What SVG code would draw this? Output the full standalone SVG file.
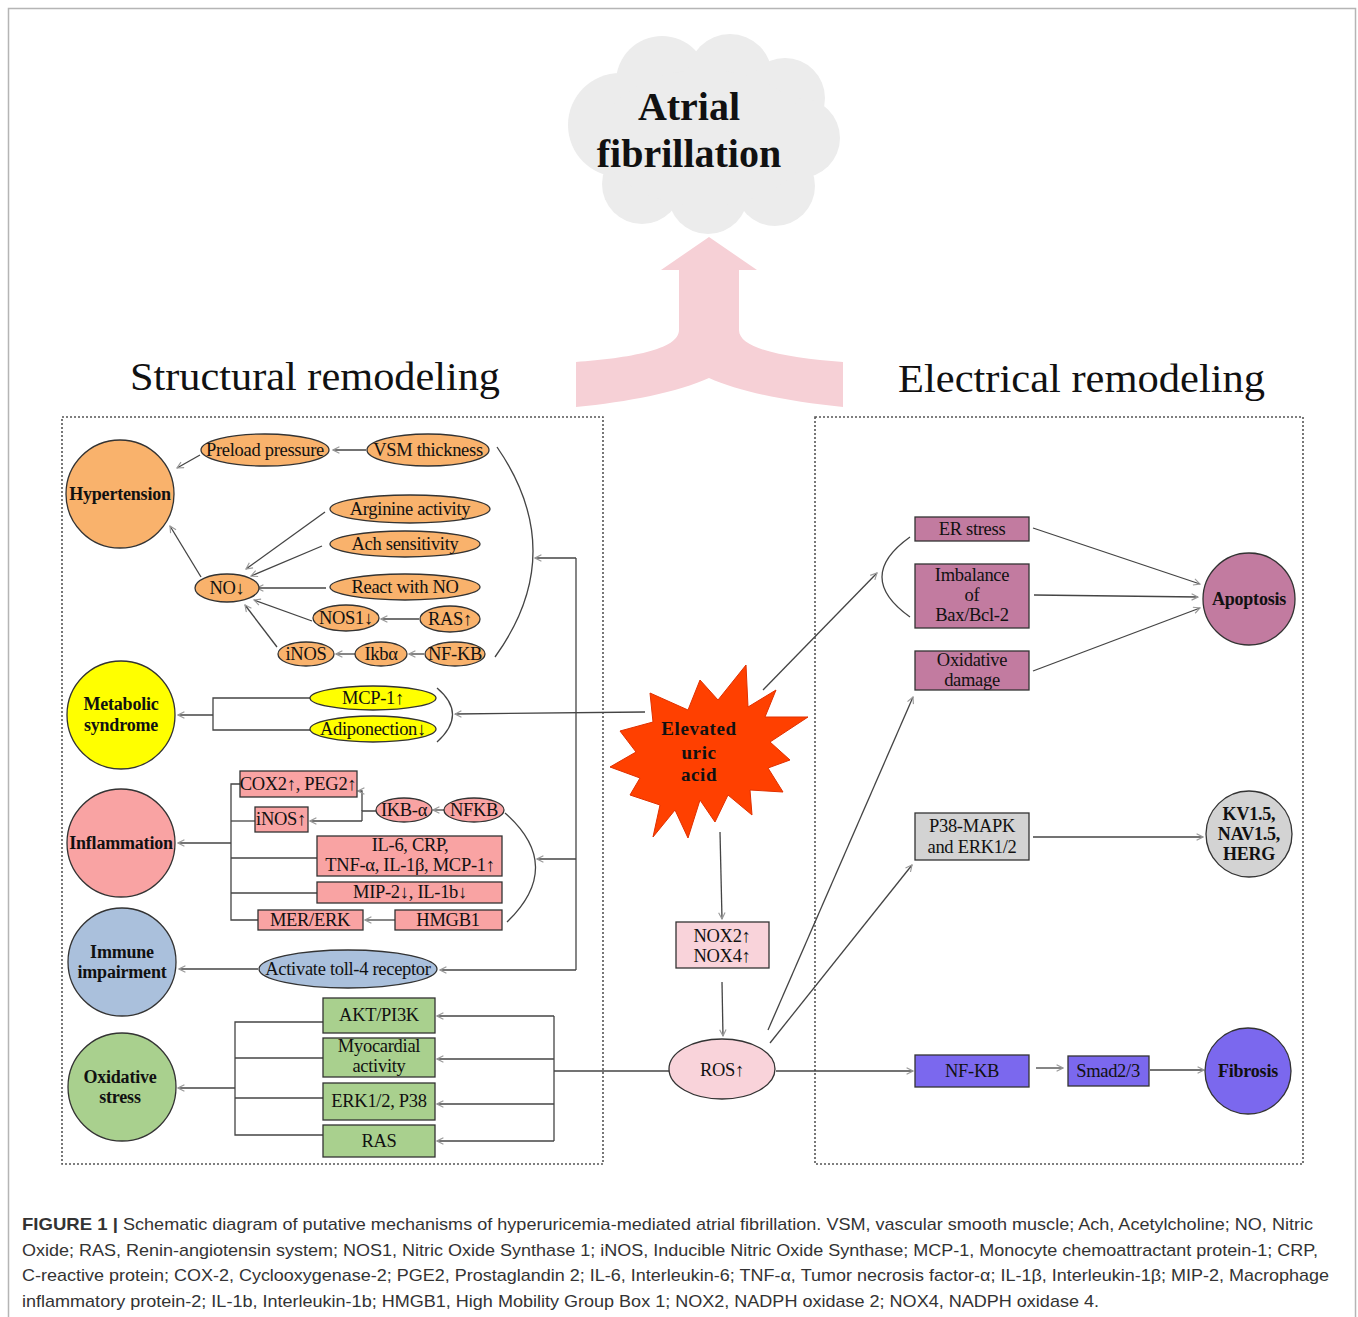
<svg xmlns="http://www.w3.org/2000/svg" width="1358" height="1317" viewBox="0 0 1358 1317">
<defs>
<style>
.n{font-family:"Liberation Serif","Times New Roman",serif;font-size:18.5px;text-anchor:middle;fill:#111;letter-spacing:-0.3px}
.b{font-weight:bold;font-size:18px;letter-spacing:-0.2px}
.h{font-family:"Liberation Serif","Times New Roman",serif;font-size:40px;fill:#111}
.cap{font-family:"Liberation Sans",Arial,sans-serif;font-size:17px;fill:#333}
.sk{stroke:#333;stroke-width:1.3}
.c{fill:none;stroke:#444;stroke-width:1.3}
.a{marker-end:url(#ah)}
.box{fill:none;stroke:#555;stroke-width:1.6;stroke-dasharray:2 2}
</style>
<marker id="ah" viewBox="0 0 10 10" refX="9" refY="5" markerWidth="8" markerHeight="8" markerUnits="userSpaceOnUse" orient="auto">
<path d="M1,1 L9,5 L1,9" fill="none" stroke="#999" stroke-width="1.4"/>
</marker>
</defs>
<rect width="1358" height="1317" fill="#fff"/>
<rect x="8.5" y="8.5" width="1347" height="1340" fill="none" stroke="#b5b5b5" stroke-width="1.5"/>

<g id="cloud" fill="#ececec">
<circle cx="620" cy="125" r="52"/>
<circle cx="662" cy="82" r="46"/>
<circle cx="730" cy="76" r="42"/>
<circle cx="785" cy="98" r="40"/>
<circle cx="800" cy="138" r="40"/>
<circle cx="775" cy="186" r="40"/>
<circle cx="708" cy="194" r="40"/>
<circle cx="642" cy="184" r="40"/>
<ellipse cx="705" cy="138" rx="105" ry="68"/>
<text x="689" y="120" class="n" style="font-weight:bold;font-size:40px;letter-spacing:0">Atrial</text>
<text x="689" y="167" class="n" style="font-weight:bold;font-size:40px;letter-spacing:0">fibrillation</text>
</g>

<g id="big-arrow">
<path d="M709,237 L757,270 L739,270 L739,330 C739,350 790,358 843,362 L843,407 C790,402 740,392 709,378 C678,392 628,402 576,407 L576,362 C628,358 679,350 679,330 L679,270 L661,270 Z" fill="#f6d0d6"/>
</g>

<text x="130" y="390" class="h" textLength="370" lengthAdjust="spacingAndGlyphs">Structural remodeling</text>
<text x="898" y="392" class="h" textLength="367" lengthAdjust="spacingAndGlyphs">Electrical remodeling</text>

<rect x="62" y="417" width="541" height="747" class="box"/>
<rect x="815" y="417" width="488" height="747" class="box"/>

<g id="connectors">
<path class="c a" d="M200,455 L177,468"/>
<path class="c a" d="M366,450 L333,450"/>
<path class="c a" d="M201,577 L170,526"/>
<path class="c a" d="M325,512 L246,569"/>
<path class="c a" d="M322,546 L251,576"/>
<path class="c a" d="M326,588 L257,588"/>
<path class="c a" d="M312,621 L254,600"/>
<path class="c a" d="M419,619 L381,619"/>
<path class="c a" d="M277,647 L245,605"/>
<path class="c a" d="M355,654 L336,654"/>
<path class="c a" d="M424,654 L409,654"/>
<path class="c" d="M497,447 Q570,553 495,657"/>
<path class="c a" d="M576,558 L535,558"/>
<path class="c" d="M576,558 V970"/>
<path class="c a" d="M645,712 L455,714"/>
<path class="c" d="M437,688 Q468,714 437,742"/>
<path class="c" d="M310,698 H213 V730 H310"/>
<path class="c a" d="M213,715 L178,715"/>
<path class="c a" d="M231,843 L178,843"/>
<path class="c" d="M240,784 H231 V920 H258"/>
<path class="c" d="M255,821 H231"/>
<path class="c" d="M317,858 H231"/>
<path class="c" d="M317,893 H231"/>
<path class="c" d="M376,811 H362 V821"/>
<path class="c a" d="M362,811 V791 L358,791"/>
<path class="c a" d="M362,821 L310,821"/>
<path class="c a" d="M444,810 L433,810"/>
<path class="c a" d="M395,920 L365,920"/>
<path class="c" d="M505,813 Q565,866 507,922"/>
<path class="c a" d="M576,859 L537,859"/>
<path class="c a" d="M258,969 L179,969"/>
<path class="c a" d="M576,970 L440,970"/>
<path class="c a" d="M235,1088 L178,1088"/>
<path class="c" d="M323,1022 H235 V1135 H323"/>
<path class="c" d="M323,1058 H235"/>
<path class="c" d="M323,1098 H235"/>
<path class="c" d="M670,1071 H554"/>
<path class="c" d="M554,1016 V1141"/>
<path class="c a" d="M554,1016 L437,1016"/>
<path class="c a" d="M554,1059 L437,1059"/>
<path class="c a" d="M554,1104 L437,1104"/>
<path class="c a" d="M554,1141 L437,1141"/>
<path class="c a" d="M720,832 L722,919"/>
<path class="c a" d="M722,982 L723,1036"/>
<path class="c a" d="M763,690 L877,573"/>
<path class="c" d="M910,537 Q854,577 910,617"/>
<path class="c a" d="M768,1030 L913,697"/>
<path class="c a" d="M770,1043 L912,865"/>
<path class="c a" d="M776,1071 L913,1071"/>
<path class="c a" d="M1033,528 L1200,584"/>
<path class="c a" d="M1034,595 L1198,597"/>
<path class="c a" d="M1033,671 L1200,608"/>
<path class="c a" d="M1033,837 L1203,837"/>
<path class="c a" d="M1036,1068 L1063,1068"/>
<path class="c a" d="M1150,1070 L1204,1070"/>
</g>

<g id="hypertension"><circle cx="120" cy="494" r="54" fill="#f9b26c" class="sk"/><text x="120" y="500" class="n b">Hypertension</text></g>
<g id="preload"><ellipse cx="265" cy="450" rx="64" ry="16" fill="#f9b26c" class="sk"/><text x="265" y="456" class="n">Preload pressure</text></g>
<g id="vsm"><ellipse cx="428" cy="450" rx="61" ry="16" fill="#f9b26c" class="sk"/><text x="428" y="456" class="n">VSM thickness</text></g>
<g id="arginine"><ellipse cx="410" cy="509" rx="80" ry="14" fill="#f9b26c" class="sk"/><text x="410" y="515" class="n">Arginine activity</text></g>
<g id="ach"><ellipse cx="405" cy="544" rx="75" ry="13" fill="#f9b26c" class="sk"/><text x="405" y="550" class="n">Ach sensitivity</text></g>
<g id="react"><ellipse cx="405" cy="587" rx="75" ry="13" fill="#f9b26c" class="sk"/><text x="405" y="593" class="n">React with NO</text></g>
<g id="no"><ellipse cx="227" cy="588" rx="32" ry="14" fill="#f9b26c" class="sk"/><text x="227" y="594" class="n">NO↓</text></g>
<g id="nos1"><ellipse cx="346" cy="618" rx="33" ry="13" fill="#f9b26c" class="sk"/><text x="346" y="624" class="n">NOS1↓</text></g>
<g id="ras-up"><ellipse cx="450" cy="619" rx="30" ry="13" fill="#f9b26c" class="sk"/><text x="450" y="625" class="n">RAS↑</text></g>
<g id="inos"><ellipse cx="306" cy="654" rx="28" ry="12" fill="#f9b26c" class="sk"/><text x="306" y="660" class="n">iNOS</text></g>
<g id="ikba"><ellipse cx="381" cy="654" rx="26" ry="12" fill="#f9b26c" class="sk"/><text x="381" y="660" class="n">Ikbα</text></g>
<g id="nfkb-h"><ellipse cx="455" cy="654" rx="30" ry="12" fill="#f9b26c" class="sk"/><text x="455" y="660" class="n">NF-KB</text></g>

<g id="metabolic"><circle cx="121" cy="715" r="54" fill="#ffff00" class="sk"/><text x="121" y="710" class="n b">Metabolic</text><text x="121" y="731" class="n b">syndrome</text></g>
<g id="mcp1"><ellipse cx="373" cy="698" rx="63" ry="12" fill="#ffff00" class="sk"/><text x="373" y="704" class="n">MCP-1↑</text></g>
<g id="adipo"><ellipse cx="373" cy="729" rx="63" ry="13" fill="#ffff00" class="sk"/><text x="373" y="735" class="n">Adiponection↓</text></g>

<g id="inflammation"><circle cx="121" cy="843" r="54" fill="#f9a3a3" class="sk"/><text x="121" y="849" class="n b">Inflammation</text></g>
<g id="cox2"><rect x="240" y="771" width="117" height="26" fill="#f9a3a3" class="sk"/><text x="298" y="790" class="n">COX2↑, PEG2↑</text></g>
<g id="inos-up"><rect x="255" y="807" width="53" height="25" fill="#f9a3a3" class="sk"/><text x="281" y="825" class="n">iNOS↑</text></g>
<g id="ikb-alpha"><ellipse cx="404" cy="810" rx="28" ry="12" fill="#f9a3a3" class="sk"/><text x="404" y="816" class="n">IKB-α</text></g>
<g id="nfkb-i"><ellipse cx="474" cy="810" rx="30" ry="12" fill="#f9a3a3" class="sk"/><text x="474" y="816" class="n">NFKB</text></g>
<g id="il6"><rect x="317" y="836" width="185" height="40" fill="#f9a3a3" class="sk"/><text x="410" y="851" class="n">IL-6, CRP,</text><text x="410" y="871" class="n">TNF-α, IL-1β, MCP-1↑</text></g>
<g id="mip2"><rect x="317" y="882" width="185" height="21" fill="#f9a3a3" class="sk"/><text x="410" y="898" class="n">MIP-2↓, IL-1b↓</text></g>
<g id="mer-erk"><rect x="258" y="910" width="105" height="20" fill="#f9a3a3" class="sk"/><text x="310" y="926" class="n">MER/ERK</text></g>
<g id="hmgb1"><rect x="395" y="910" width="107" height="20" fill="#f9a3a3" class="sk"/><text x="448" y="926" class="n">HMGB1</text></g>

<g id="immune"><circle cx="122" cy="962" r="54" fill="#aac0dc" class="sk"/><text x="122" y="958" class="n b">Immune</text><text x="122" y="978" class="n b">impairment</text></g>
<g id="toll"><ellipse cx="348" cy="969" rx="89" ry="19" fill="#aac0dc" class="sk"/><text x="348" y="975" class="n">Activate toll-4 receptor</text></g>

<g id="oxidative"><circle cx="122" cy="1087" r="54" fill="#a9d08e" class="sk"/><text x="120" y="1083" class="n b">Oxidative</text><text x="120" y="1103" class="n b">stress</text></g>
<g id="akt"><rect x="323" y="998" width="112" height="35" fill="#a9d08e" class="sk"/><text x="379" y="1021" class="n">AKT/PI3K</text></g>
<g id="myocardial"><rect x="323" y="1038" width="112" height="39" fill="#a9d08e" class="sk"/><text x="379" y="1052" class="n">Myocardial</text><text x="379" y="1072" class="n">activity</text></g>
<g id="erk-p38"><rect x="323" y="1083" width="112" height="37" fill="#a9d08e" class="sk"/><text x="379" y="1107" class="n">ERK1/2, P38</text></g>
<g id="ras"><rect x="323" y="1125" width="112" height="32" fill="#a9d08e" class="sk"/><text x="379" y="1147" class="n">RAS</text></g>

<g id="uric-acid">
<polygon points="746,665 748,707 776,690 765,717 808,717 770,742 790,760 768,768 783,792 750,790 752,815 728,795 715,822 700,800 688,838 675,810 653,837 660,805 630,795 640,778 610,767 636,752 620,731 653,722 650,693 688,710 700,680 718,700" fill="#ff4000" stroke="#e03000" stroke-width="1"/>
<text x="699" y="735" class="n" style="font-weight:bold;font-size:19px;letter-spacing:0.6px">Elevated</text>
<text x="699" y="759" class="n" style="font-weight:bold;font-size:19px;letter-spacing:0.6px">uric</text>
<text x="699" y="781" class="n" style="font-weight:bold;font-size:19px;letter-spacing:0.6px">acid</text>
</g>
<g id="nox"><rect x="676" y="922" width="93" height="46" fill="#f9d3da" class="sk"/><text x="722" y="942" class="n">NOX2↑</text><text x="722" y="962" class="n">NOX4↑</text></g>
<g id="ros"><ellipse cx="722" cy="1069" rx="53" ry="30" fill="#f9d3da" class="sk"/><text x="722" y="1076" class="n">ROS↑</text></g>

<g id="er-stress"><rect x="915" y="517" width="114" height="24" fill="#c27ba0" class="sk"/><text x="972" y="535" class="n">ER stress</text></g>
<g id="imbalance"><rect x="915" y="564" width="114" height="64" fill="#c27ba0" class="sk"/><text x="972" y="581" class="n">Imbalance</text><text x="972" y="601" class="n">of</text><text x="972" y="621" class="n">Bax/Bcl-2</text></g>
<g id="ox-damage"><rect x="915" y="651" width="114" height="39" fill="#c27ba0" class="sk"/><text x="972" y="666" class="n">Oxidative</text><text x="972" y="686" class="n">damage</text></g>
<g id="apoptosis"><circle cx="1249" cy="599" r="46" fill="#c27ba0" class="sk"/><text x="1249" y="605" class="n b">Apoptosis</text></g>
<g id="p38"><rect x="915" y="813" width="114" height="47" fill="#d3d3d3" class="sk"/><text x="972" y="832" class="n">P38-MAPK</text><text x="972" y="853" class="n">and ERK1/2</text></g>
<g id="kv"><circle cx="1249" cy="834" r="43" fill="#d3d3d3" class="sk"/><text x="1249" y="820" class="n b">KV1.5,</text><text x="1249" y="840" class="n b">NAV1.5,</text><text x="1249" y="860" class="n b">HERG</text></g>
<g id="nfkb-r"><rect x="915" y="1055" width="114" height="32" fill="#7b68ee" class="sk"/><text x="972" y="1077" class="n">NF-KB</text></g>
<g id="smad"><rect x="1068" y="1056" width="81" height="30" fill="#7b68ee" class="sk"/><text x="1108" y="1077" class="n">Smad2/3</text></g>
<g id="fibrosis"><circle cx="1248" cy="1071" r="43" fill="#7b68ee" class="sk"/><text x="1248" y="1077" class="n b">Fibrosis</text></g>

<g id="caption">
<text x="22" y="1230" class="cap" style="font-weight:bold" textLength="96" lengthAdjust="spacingAndGlyphs">FIGURE 1 |</text>
<text x="123" y="1230" class="cap" textLength="1190" lengthAdjust="spacingAndGlyphs">Schematic diagram of putative mechanisms of hyperuricemia-mediated atrial fibrillation. VSM, vascular smooth muscle; Ach, Acetylcholine; NO, Nitric</text>
<text x="22" y="1256" class="cap" textLength="1296" lengthAdjust="spacingAndGlyphs">Oxide; RAS, Renin-angiotensin system; NOS1, Nitric Oxide Synthase 1; iNOS, Inducible Nitric Oxide Synthase; MCP-1, Monocyte chemoattractant protein-1; CRP,</text>
<text x="22" y="1281" class="cap" textLength="1307" lengthAdjust="spacingAndGlyphs">C-reactive protein; COX-2, Cyclooxygenase-2; PGE2, Prostaglandin 2; IL-6, Interleukin-6; TNF-α, Tumor necrosis factor-α; IL-1β, Interleukin-1β; MIP-2, Macrophage</text>
<text x="22" y="1307" class="cap" textLength="1077" lengthAdjust="spacingAndGlyphs">inflammatory protein-2; IL-1b, Interleukin-1b; HMGB1, High Mobility Group Box 1; NOX2, NADPH oxidase 2; NOX4, NADPH oxidase 4.</text>
</g>
</svg>
